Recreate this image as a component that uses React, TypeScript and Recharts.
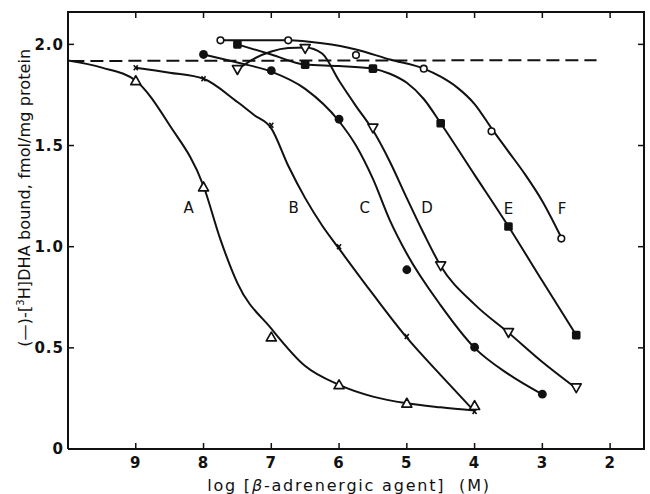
import React from "react";
import { ComposedChart, Line, Scatter, XAxis, YAxis } from "recharts";

const INK = "#111";
const FONT = "'DejaVu Sans', 'Liberation Sans', sans-serif";
const MARGIN = { top: 12, right: 6, bottom: 15, left: 8 };
const W = 650;
const H = 494;

const xTicks = [9, 8, 7, 6, 5, 4, 3, 2];
const yTicks = [0, 0.5, 1.0, 1.5, 2.0];
const xDomain = [1.5, 10];
const yDomain = [0, 2.16];

// measured points: x = log[agent] (M), y = bound DHA
const aX = [9, 8, 7, 6, 5, 4];
const aY = [1.82, 1.295, 0.553, 0.317, 0.226, 0.214];
const bX = [9, 8, 7, 6, 5, 4];
const bY = [1.885, 1.83, 1.6, 1.0, 0.556, 0.185];
const cX = [8, 7, 6, 5, 4, 3];
const cY = [1.95, 1.87, 1.63, 0.886, 0.503, 0.271];
const dX = [7.5, 6.5, 5.5, 4.5, 3.5, 2.5];
const dY = [1.876, 1.98, 1.587, 0.906, 0.576, 0.303];
const eX = [7.5, 6.5, 5.5, 4.5, 3.5, 2.5];
const eY = [2.0, 1.9, 1.88, 1.61, 1.1, 0.563];
const fX = [7.75, 6.75, 5.75, 4.75, 3.75, 2.72];
const fY = [2.02, 2.02, 1.947, 1.88, 1.57, 1.04];

// hand drawn curves
const aCurveX = [10, 9.5, 9, 8.5, 8, 7.75, 7.5, 7.0, 6.5, 6.0, 5.5, 5.0, 4.5, 4.0];
const aCurveY = [1.92, 1.885, 1.82, 1.6, 1.3, 1.035, 0.82, 0.595, 0.41, 0.317, 0.259, 0.226, 0.206, 0.19];
const bCurveX = [9, 8.5, 8, 7.5, 7.25, 7.0, 6.75, 6.5, 6.25, 6.0, 5.5, 5.0, 4.5, 4.0];
const bCurveY = [1.885, 1.86, 1.83, 1.715, 1.65, 1.585, 1.4, 1.24, 1.105, 0.99, 0.765, 0.55, 0.365, 0.185];
const cCurveX = [8, 7.5, 7, 6.5, 6.0, 5.75, 5.5, 5.25, 5.0, 4.5, 4.0, 3.5, 3.0];
const cCurveY = [1.95, 1.91, 1.865, 1.78, 1.62, 1.5, 1.335, 1.13, 0.965, 0.71, 0.5, 0.37, 0.27];
const dCurveX = [7.5, 7.25, 7.0, 6.75, 6.5, 6.25, 6.0, 5.75, 5.5, 5.25, 5.0, 4.75, 4.5, 4.0, 3.5, 3.0, 2.5];
const dCurveY = [1.876, 1.93, 1.965, 1.982, 1.985, 1.955, 1.82, 1.695, 1.575, 1.42, 1.24, 1.065, 0.905, 0.715, 0.575, 0.43, 0.3];
const eCurveX = [7.5, 7.0, 6.5, 6.0, 5.5, 5.25, 5.0, 4.75, 4.5, 4.0, 3.5, 3.0, 2.5];
const eCurveY = [2.0, 1.95, 1.9, 1.893, 1.88, 1.855, 1.81, 1.73, 1.61, 1.355, 1.1, 0.83, 0.563];
const fCurveX = [7.75, 6.75, 6.25, 5.75, 5.25, 4.75, 4.5, 4.25, 4.0, 3.75, 3.5, 3.25, 3.0, 2.72];
const fCurveY = [2.02, 2.02, 2.005, 1.975, 1.925, 1.88, 1.84, 1.785, 1.705, 1.585, 1.47, 1.355, 1.225, 1.045];

// dashed control level
const dashX = [9.95, 2.2];
const dashY = [1.918, 1.922];

// curve letters
const letterNames = ["A", "B", "C", "D", "E", "F"];
const letterX = [8.22, 6.67, 5.62, 4.7, 3.5, 2.71];
const letterY = [1.195, 1.195, 1.195, 1.195, 1.19, 1.19];

const pts = (xs: number[], ys: number[]) => xs.map((x, i) => ({ x, y: ys[i] }));

const triUp = (p: any) => (
  <path
    d={`M${p.cx},${p.cy - 5} L${p.cx + 5},${p.cy + 3.8} L${p.cx - 5},${p.cy + 3.8} Z`}
    fill="#fff" stroke={INK} strokeWidth={1.7} strokeLinejoin="round"
  />
);
const triDown = (p: any) => (
  <path
    d={`M${p.cx},${p.cy + 5} L${p.cx + 5},${p.cy - 3.8} L${p.cx - 5},${p.cy - 3.8} Z`}
    fill="#fff" stroke={INK} strokeWidth={1.7} strokeLinejoin="round"
  />
);
const cross = (p: any) => (
  <path
    d={`M${p.cx - 2},${p.cy - 2.5} L${p.cx + 2},${p.cy + 2.5} M${p.cx + 2},${p.cy - 2.5} L${p.cx - 2},${p.cy + 2.5}`}
    stroke={INK} strokeWidth={1.6}
  />
);
const dotFilled = (p: any) => <circle cx={p.cx} cy={p.cy} r={4.4} fill={INK} />;
const dotOpen = (p: any) => <circle cx={p.cx} cy={p.cy} r={3.3} fill="#fff" stroke={INK} strokeWidth={1.6} />;
const square = (p: any) => <rect x={p.cx - 4.3} y={p.cy - 4.3} width={8.6} height={8.6} rx={1.6} fill={INK} />;

const letter = (p: any) => (
  <text x={p.cx} y={p.cy} textAnchor="middle" dy="0.36em" fontSize={15} fontFamily={FONT} fill={INK}>
    {letterNames[p.index] ?? p.payload?.name}
  </text>
);

const tickText = { fill: INK, fontSize: 15, fontFamily: FONT, fontWeight: "bold", letterSpacing: 1 };

// bottom tick label, plus the matching inward mark on the top side of the frame
const XTick = (p: any) => (
  <g>
    <text x={p.x} y={p.y} dy="0.71em" textAnchor="middle" {...tickText}>{p.payload.value}</text>
    <line x1={p.x} x2={p.x} y1={MARGIN.top} y2={MARGIN.top + 6} stroke={INK} strokeWidth={1.5} />
  </g>
);

// left tick label, plus the matching inward mark on the right side of the frame
const YTick = (p: any) => {
  const v = p.payload.value;
  const right = W - MARGIN.right;
  return (
    <g>
      <text x={p.x} y={p.y} dy="0.36em" textAnchor="end" {...tickText}>{v === 0 ? "0" : v.toFixed(1)}</text>
      {v > 0 && <line x1={right} x2={right - 6} y1={p.y} y2={p.y} stroke={INK} strokeWidth={1.5} />}
    </g>
  );
};

const XTitle = ({ viewBox }: any) => {
  const cx = viewBox.x + viewBox.width / 2 - 7;
  return (
    <g>
      {/* top and right sides of the frame */}
      <path
        d={`M${viewBox.x - 1},${MARGIN.top} H${viewBox.x + viewBox.width} V${viewBox.y + 1}`}
        fill="none" stroke={INK} strokeWidth={2}
      />
      <text
        x={cx} y={viewBox.y + 42} textAnchor="middle" fontSize={16} fontFamily={FONT}
        fill={INK} letterSpacing={1.8} style={{ whiteSpace: "pre" }}
      >
        log [<tspan fontStyle="italic">β</tspan>-adrenergic agent]  (M)
      </text>
    </g>
  );
};

const YTitle = ({ viewBox }: any) => {
  const cx = viewBox.x + 16;
  const cy = viewBox.y + viewBox.height * 0.425;
  return (
    <text
      x={cx} y={cy} transform={`rotate(-90, ${cx}, ${cy})`} textAnchor="middle" dy="0.36em"
      fontSize={16} fontFamily={FONT} fill={INK} letterSpacing={0.1}
    >
      (—)-[<tspan dy={-6} fontSize={10}>3</tspan>
      <tspan dy={6}>H]DHA bound, fmol/mg protein</tspan>
    </text>
  );
};

const axisLine = { stroke: INK, strokeWidth: 2 };
const tickLine = { stroke: INK, strokeWidth: 1.5 };

const curves = [
  pts(aCurveX, aCurveY),
  pts(bCurveX, bCurveY),
  pts(cCurveX, cCurveY),
  pts(dCurveX, dCurveY),
  pts(eCurveX, eCurveY),
  pts(fCurveX, fCurveY),
];

const markers = [
  { data: pts(aX, aY), shape: triUp },
  { data: pts(bX, bY), shape: cross },
  { data: pts(cX, cY), shape: dotFilled },
  { data: pts(dX, dY), shape: triDown },
  { data: pts(eX, eY), shape: square },
  { data: pts(fX, fY), shape: dotOpen },
];

const letterData = letterNames.map((name, i) => ({ name, x: letterX[i], y: letterY[i] }));

// plot box edges, used for the frame overlay
const plotLeft = MARGIN.left + 60;
const plotRight = W - MARGIN.right;
const plotBottom = H - MARGIN.bottom - 30;

export default function App() {
  return (
    <div style={{ position: "absolute", left: 0, top: 0, width: W, height: H, background: "#fff" }}>
      <ComposedChart width={W} height={H} margin={MARGIN}>
        <XAxis
          dataKey="x" type="number" domain={xDomain} reversed ticks={xTicks}
          height={30} tickSize={-6} tickMargin={14} axisLine={axisLine} tickLine={tickLine}
          tick={XTick} label={<XTitle />}
        />
        <YAxis
          dataKey="y" type="number" domain={yDomain} ticks={yTicks} width={60}
          tickSize={-6} tickMargin={10} axisLine={axisLine} tickLine={tickLine} tick={YTick}
          label={<YTitle />}
        />
        <Line
          data={pts(dashX, dashY)} dataKey="y" type="linear" stroke={INK} strokeWidth={2}
          strokeDasharray="13 6" dot={false} activeDot={false} isAnimationActive={false}
        />
        {curves.map((c, i) => (
          <Line
            key={"c" + i} data={c} dataKey="y" type="monotone" stroke={INK} strokeWidth={2}
            dot={false} activeDot={false} isAnimationActive={false}
          />
        ))}
        {markers.map((m, i) => (
          <Scatter key={"m" + i} data={m.data} dataKey="y" shape={m.shape} isAnimationActive={false} />
        ))}
        <Scatter data={letterData} dataKey="y" shape={letter} isAnimationActive={false} />
      </ComposedChart>
      {/* top and right border of the plot box */}
      <div
        style={{
          position: "absolute",
          left: plotLeft - 1,
          top: MARGIN.top - 1,
          width: plotRight - plotLeft + 2,
          height: plotBottom - MARGIN.top + 2,
          borderTop: `2px solid ${INK}`,
          borderRight: `2px solid ${INK}`,
          boxSizing: "border-box",
          pointerEvents: "none",
        }}
      />
    </div>
  );
}
